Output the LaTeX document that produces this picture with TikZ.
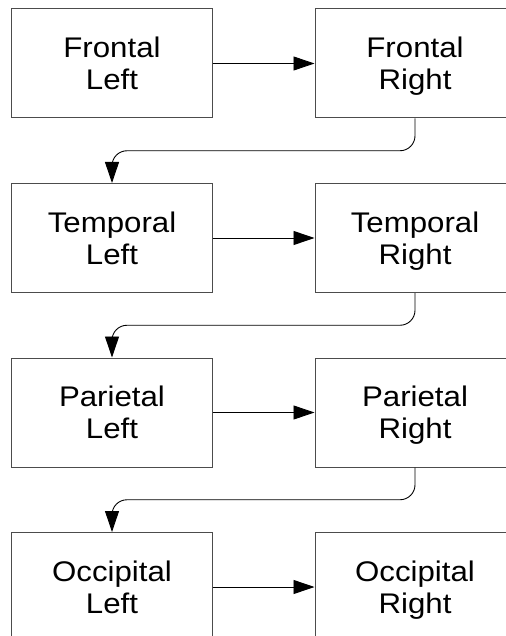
\documentclass[tikz,border=0pt]{standalone}
\usepackage{fontspec}
\setmainfont{Liberation Sans}[FakeStretch=1.1]
\usetikzlibrary{arrows.meta,calc}

\begin{document}
\begin{tikzpicture}[x=1bp,y=-1bp,
    lobe/.style={draw=black!70,line width=1bp,minimum width=200bp,minimum height=109bp,
        inner sep=0pt,align=center,font=\fontsize{28.5}{32}\selectfont},
    link/.style={-{Triangle[length=21bp,width=14bp]},line width=0.9bp,rounded corners=15bp}]
    \useasboundingbox (0,0) rectangle (506,636);
    % one row per lobe
    \foreach \lobe/\y in {Frontal/63.5,Temporal/238,Parietal/412.5,Occipital/587}{
        \node[lobe] (\lobe L) at (112,\y) {\rule{0pt}{30bp}\lobe\\Left\strut};
        \node[lobe] (\lobe R) at (415,\y) {\rule{0pt}{30bp}\lobe\\Right\strut};
        \draw[link] (\lobe L.east) -- (\lobe R.west);
    }
    % right of one row to left of the next
    \foreach \a/\b in {Frontal/Temporal,Temporal/Parietal,Parietal/Occipital}{
        \coordinate (m\a) at ($(\a R.south)!.5!(\b L.north)$);
        \draw[link] (\a R.south) |- (m\a) -| (\b L.north);
    }
\end{tikzpicture}
\end{document}
